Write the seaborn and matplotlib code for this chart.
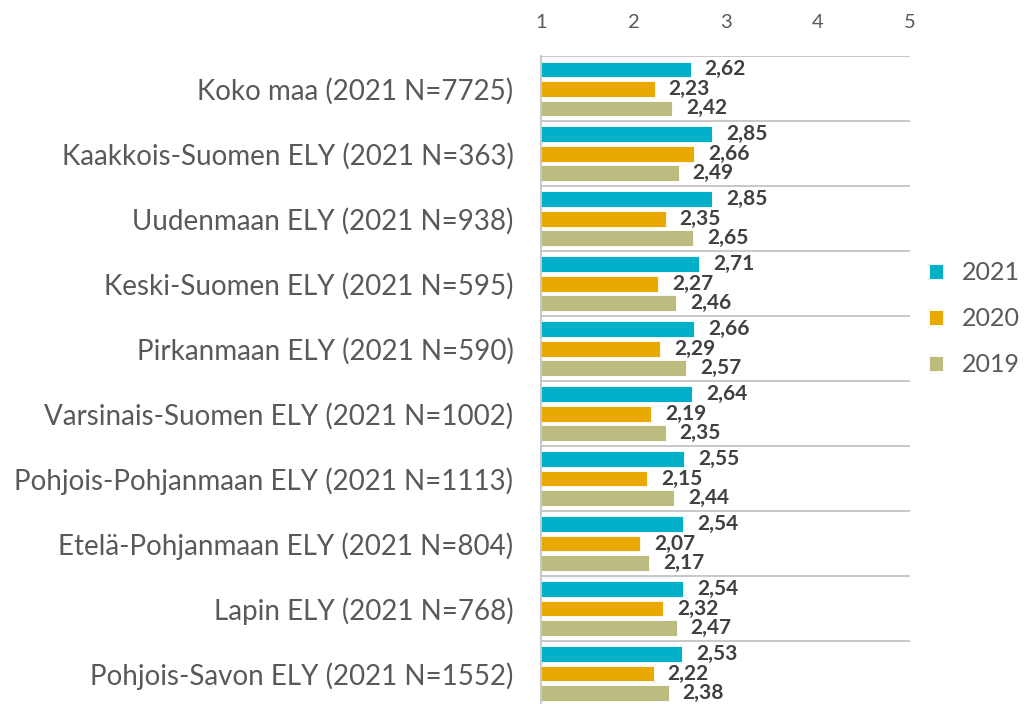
import pandas as pd
import matplotlib.pyplot as plt
import seaborn as sns

# Data
alueet = ["Koko maa (2021 N=7725)", "Kaakkois-Suomen ELY (2021 N=363)", "Uudenmaan ELY (2021 N=938)",
          "Keski-Suomen ELY (2021 N=595)", "Pirkanmaan ELY (2021 N=590)", "Varsinais-Suomen ELY (2021 N=1002)",
          "Pohjois-Pohjanmaan ELY (2021 N=1113)", "Etelä-Pohjanmaan ELY (2021 N=804)",
          "Lapin ELY (2021 N=768)", "Pohjois-Savon ELY (2021 N=1552)"]
vuodet = ["2021", "2020", "2019"]
arvot_2021 = [2.62, 2.85, 2.85, 2.71, 2.66, 2.64, 2.55, 2.54, 2.54, 2.53]
arvot_2020 = [2.23, 2.66, 2.35, 2.27, 2.29, 2.19, 2.15, 2.07, 2.32, 2.22]
arvot_2019 = [2.42, 2.49, 2.65, 2.46, 2.57, 2.35, 2.44, 2.17, 2.47, 2.38]
xticks = [1, 2, 3, 4, 5]

df = pd.DataFrame({
    "Alue": alueet * 3,
    "Vuosi": ["2021"] * 10 + ["2020"] * 10 + ["2019"] * 10,
    "Arvo": arvot_2021 + arvot_2020 + arvot_2019,
})

varit = {"2021": "#00AFC8", "2020": "#E9A900", "2019": "#BDBC80"}

sns.set_style("white")
plt.rcParams['font.family'] = ['Lato', 'DejaVu Sans']

fig = plt.figure(figsize=(10.25, 7.04), dpi=100)
ax = fig.add_axes([0.528, -0.003, 0.36, 0.923])

sns.barplot(data=df, y="Alue", x="Arvo", hue="Vuosi", hue_order=vuodet, order=alueet,
            palette=varit, saturation=1, orient="h", width=0.9, gap=0.2, ax=ax, legend=True,
            edgecolor="white", linewidth=0.6)

# Arvot palkkien perään
for cont in ax.containers:
    labels = [f"{v:.2f}".replace(".", ",") for v in cont.datavalues]
    ax.bar_label(cont, labels=labels, padding=10, fontsize=15, fontweight="bold", color="#404040")

# Palkit alkavat kohdasta 1
for p in ax.patches:
    w = p.get_width()
    p.set_x(1)
    p.set_width(w - 1)

ax.set_xlim(1, 5)
ax.set_ylim(len(alueet) - 0.5, -0.5)
ax.xaxis.tick_top()
ax.set_xticks(xticks)
ax.tick_params(axis="x", length=0, labelsize=14.5, labelcolor="#595959", pad=18)
ax.tick_params(axis="y", length=0, labelsize=20, labelcolor="#595959", pad=20)
ax.set_xlabel("")
ax.set_ylabel("")

# Erotinviivat
for i in range(len(alueet) + 1):
    ax.axhline(i - 0.5, color="#BFBFBF", linewidth=1.2, xmin=0, xmax=1, zorder=0)

for s in ["top", "right", "bottom"]:
    ax.spines[s].set_visible(False)
ax.spines["left"].set_color("#BFBFBF")
ax.spines["left"].set_linewidth(1.2)

leg = ax.legend(loc="center left", bbox_to_anchor=(0.99, 0.596), frameon=False, fontsize=18,
                handlelength=0.55, handleheight=0.55, labelspacing=0.92, handletextpad=0.75)
for t in leg.get_texts():
    t.set_color("#595959")

fig.savefig("out.png", dpi=100)
